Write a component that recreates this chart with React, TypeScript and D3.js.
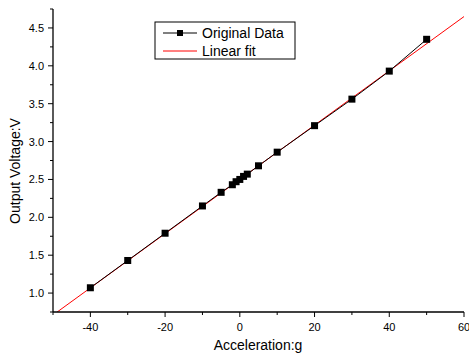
import * as d3 from "d3";

const accel = [-40, -30, -20, -10, -5, -2, -1, 0, 1, 2, 5, 10, 20, 30, 40, 50];
const voltage = [1.07, 1.43, 1.79, 2.15, 2.33, 2.43, 2.47, 2.5, 2.54, 2.57, 2.68, 2.86, 3.21, 3.56, 3.93, 4.35];
const fitX = [-50, 60];
const fitY = [0.71, 4.65];
const xTicks = [-40, -20, 0, 20, 40, 60];
const yTicks = [1.0, 1.5, 2.0, 2.5, 3.0, 3.5, 4.0, 4.5];

const W = 469;
const H = 354;
const M = { left: 53, right: 464, top: 9, bottom: 312 };
const FONT = "Arial, 'Liberation Sans', sans-serif";

export default function App() {
  const x = d3.scaleLinear().domain([-50, 60]).range([M.left, M.right]);
  const y = d3.scaleLinear().domain([0.75, 4.75]).range([M.bottom, M.top]);

  const pts = accel.map((a, i) => [a, voltage[i]] as [number, number]);
  const dataLine = d3.line<[number, number]>().x((d) => x(d[0])).y((d) => y(d[1]));
  const fitPts = fitX.map((a, i) => [a, fitY[i]] as [number, number]);

  const xMinor = d3.range(-50, 61, 10);
  const yMinor = d3.range(0.75, 4.76, 0.25);

  return (
    <svg width={W} height={H} style={{ position: "absolute", left: 0, top: 0 }} fontFamily={FONT}>
      <rect width={W} height={H} fill="#fff" />
      <defs>
        <clipPath id="plot">
          <rect x={M.left} y={M.top} width={M.right - M.left} height={M.bottom - M.top} />
        </clipPath>
      </defs>

      {/* fit line */}
      <path d={dataLine(fitPts) ?? ""} stroke="#ff0000" strokeWidth={1} fill="none" clipPath="url(#plot)" />
      {/* data line */}
      <path d={dataLine(pts) ?? ""} stroke="#000" strokeWidth={1} fill="none" />
      {pts.map((d, i) => (
        <rect key={i} x={x(d[0]) - 3.5} y={y(d[1]) - 3.5} width={7} height={7} fill="#000" />
      ))}

      {/* axes */}
      <line x1={M.left} x2={M.right} y1={M.bottom} y2={M.bottom} stroke="#000" strokeWidth={1.3} />
      <line x1={M.left} x2={M.left} y1={M.top} y2={M.bottom} stroke="#000" strokeWidth={1.3} />
      {xMinor.map((t) => {
        const major = xTicks.includes(t);
        return (
          <line key={"xm" + t} x1={x(t)} x2={x(t)} y1={M.bottom} y2={M.bottom + (major ? 5 : 3)} stroke="#000" />
        );
      })}
      {yMinor.map((t) => {
        const major = yTicks.some((v) => Math.abs(v - t) < 1e-6);
        return (
          <line key={"ym" + t} x1={M.left - (major ? 5 : 3)} x2={M.left} y1={y(t)} y2={y(t)} stroke="#000" />
        );
      })}
      {xTicks.map((t) => (
        <text key={"xt" + t} x={x(t)} y={331} textAnchor="middle" fontSize={11} fill="#000">
          {t}
        </text>
      ))}
      {yTicks.map((t) => (
        <text key={"yt" + t} x={44} y={y(t) + 4} textAnchor="end" fontSize={11} fill="#000">
          {t.toFixed(1)}
        </text>
      ))}

      <text x={258} y={350} textAnchor="middle" fontSize={14} fill="#000">
        Acceleration:g
      </text>
      <text transform={`translate(20,171) rotate(-90)`} textAnchor="middle" fontSize={14} fill="#000">
        Output Voltage:V
      </text>

      {/* legend */}
      <rect x={155} y={22} width={140} height={37} fill="#fff" stroke="#000" strokeWidth={1} />
      <line x1={163} x2={197} y1={33} y2={33} stroke="#000" />
      <rect x={177} y={30} width={6} height={6} fill="#000" />
      <text x={202} y={38} fontSize={14} fill="#000">
        Original Data
      </text>
      <line x1={163} x2={197} y1={51} y2={51} stroke="#ff0000" />
      <text x={202} y={56} fontSize={14} fill="#000">
        Linear fit
      </text>
    </svg>
  );
}
